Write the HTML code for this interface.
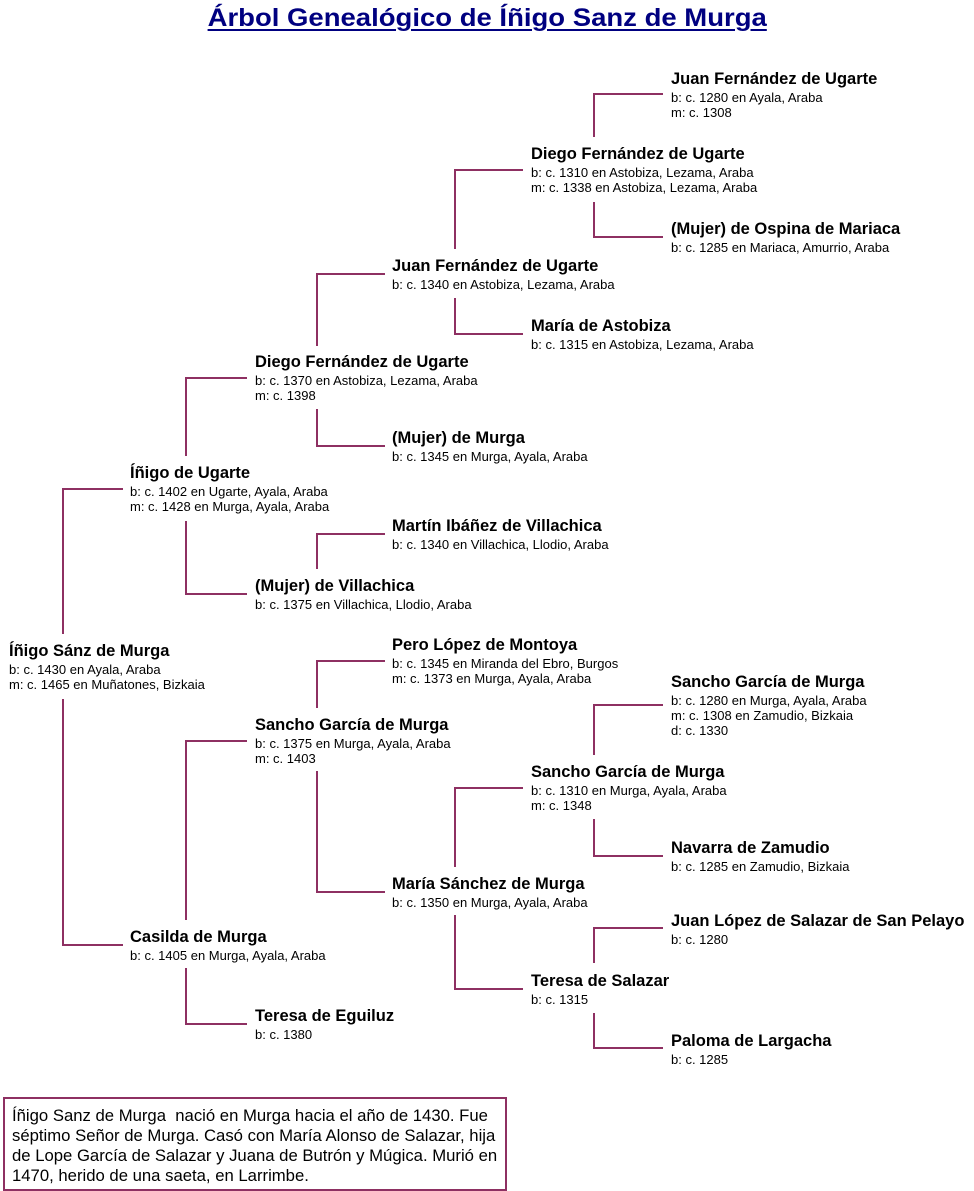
<!DOCTYPE html>
<html>
<head>
<meta charset="utf-8">
<style>
html,body{margin:0;padding:0;background:#fff;}
body{width:974px;height:1191px;position:relative;overflow:hidden;font-family:"Liberation Sans",Arial,sans-serif;color:#000;}
.title{position:absolute;left:0;top:4px;width:974px;text-align:center;line-height:28px;}
.title span{display:inline-block;font-weight:bold;font-size:25px;color:#000080;text-decoration:underline;text-decoration-thickness:2px;text-underline-offset:3px;transform:scaleX(1.1);transform-origin:50% 50%;white-space:nowrap;}
.n{position:absolute;white-space:nowrap;}
.n b{display:block;font-size:16.5px;line-height:20px;font-weight:bold;margin-bottom:1px;}
.n i{display:block;font-style:normal;font-size:13px;line-height:15px;}
svg{position:absolute;left:0;top:0;}
.box{position:absolute;left:3px;top:1097px;width:500px;height:90px;border:2px solid #8e3062;font-size:16.7px;line-height:20px;padding:0;}
.box div{position:absolute;left:7px;top:7px;white-space:nowrap;}
</style>
</head>
<body>
<div class="title"><span>Árbol Genealógico de Íñigo Sanz de Murga</span></div>

<svg width="974" height="1191" viewBox="0 0 974 1191">
<g fill="none" stroke="#8e3062" stroke-width="2" shape-rendering="crispEdges">
<path d="M123 489 H63 V634"/>
<path d="M63 699 V945 H123"/>
<path d="M247 378 H186 V456"/>
<path d="M186 521 V594 H247"/>
<path d="M247 741 H186 V920"/>
<path d="M186 968 V1024 H247"/>
<path d="M385 274 H317 V346"/>
<path d="M317 409 V446 H385"/>
<path d="M385 534 H317 V569"/>
<path d="M385 661 H317 V708"/>
<path d="M317 771 V892 H385"/>
<path d="M523 170 H455 V249"/>
<path d="M455 298 V334 H523"/>
<path d="M523 788 H455 V867"/>
<path d="M455 915 V989 H523"/>
<path d="M663 94 H594 V137"/>
<path d="M594 202 V237 H663"/>
<path d="M663 705 H594 V755"/>
<path d="M594 819 V856 H663"/>
<path d="M663 928 H594 V963"/>
<path d="M594 1013 V1048 H663"/>
</g>
</svg>

<!-- Gen 0 -->
<div class="n" style="left:9px;top:641px"><b>Íñigo Sánz de Murga</b><i>b: c. 1430 en Ayala, Araba</i><i>m: c. 1465 en Muñatones, Bizkaia</i></div>

<!-- Gen 1 -->
<div class="n" style="left:130px;top:463px"><b>Íñigo de Ugarte</b><i>b: c. 1402 en Ugarte, Ayala, Araba</i><i>m: c. 1428 en Murga, Ayala, Araba</i></div>
<div class="n" style="left:130px;top:927px"><b>Casilda de Murga</b><i>b: c. 1405 en Murga, Ayala, Araba</i></div>

<!-- Gen 2 -->
<div class="n" style="left:255px;top:352px"><b>Diego Fernández de Ugarte</b><i>b: c. 1370 en Astobiza, Lezama, Araba</i><i>m: c. 1398</i></div>
<div class="n" style="left:255px;top:575.5px"><b>(Mujer) de Villachica</b><i>b: c. 1375 en Villachica, Llodio, Araba</i></div>
<div class="n" style="left:255px;top:715px"><b>Sancho García de Murga</b><i>b: c. 1375 en Murga, Ayala, Araba</i><i>m: c. 1403</i></div>
<div class="n" style="left:255px;top:1005.5px"><b>Teresa de Eguiluz</b><i>b: c. 1380</i></div>

<!-- Gen 3 -->
<div class="n" style="left:392px;top:255.5px"><b>Juan Fernández de Ugarte</b><i>b: c. 1340 en Astobiza, Lezama, Araba</i></div>
<div class="n" style="left:392px;top:427.5px"><b>(Mujer) de Murga</b><i>b: c. 1345 en Murga, Ayala, Araba</i></div>
<div class="n" style="left:392px;top:515.5px"><b>Martín Ibáñez de Villachica</b><i>b: c. 1340 en Villachica, Llodio, Araba</i></div>
<div class="n" style="left:392px;top:635px"><b>Pero López de Montoya</b><i>b: c. 1345 en Miranda del Ebro, Burgos</i><i>m: c. 1373 en Murga, Ayala, Araba</i></div>
<div class="n" style="left:392px;top:873.5px"><b>María Sánchez de Murga</b><i>b: c. 1350 en Murga, Ayala, Araba</i></div>

<!-- Gen 4 -->
<div class="n" style="left:531px;top:144px"><b>Diego Fernández de Ugarte</b><i>b: c. 1310 en Astobiza, Lezama, Araba</i><i>m: c. 1338 en Astobiza, Lezama, Araba</i></div>
<div class="n" style="left:531px;top:315.5px"><b>María de Astobiza</b><i>b: c. 1315 en Astobiza, Lezama, Araba</i></div>
<div class="n" style="left:531px;top:762px"><b>Sancho García de Murga</b><i>b: c. 1310 en Murga, Ayala, Araba</i><i>m: c. 1348</i></div>
<div class="n" style="left:531px;top:970.5px"><b>Teresa de Salazar</b><i>b: c. 1315</i></div>

<!-- Gen 5 -->
<div class="n" style="left:671px;top:68.5px"><b>Juan Fernández de Ugarte</b><i>b: c. 1280 en Ayala, Araba</i><i>m: c. 1308</i></div>
<div class="n" style="left:671px;top:219px"><b>(Mujer) de Ospina de Mariaca</b><i>b: c. 1285 en Mariaca, Amurrio, Araba</i></div>
<div class="n" style="left:671px;top:672px"><b>Sancho García de Murga</b><i>b: c. 1280 en Murga, Ayala, Araba</i><i>m: c. 1308 en Zamudio, Bizkaia</i><i>d: c. 1330</i></div>
<div class="n" style="left:671px;top:837.5px"><b>Navarra de Zamudio</b><i>b: c. 1285 en Zamudio, Bizkaia</i></div>
<div class="n" style="left:671px;top:910.5px"><b>Juan López de Salazar de San Pelayo</b><i>b: c. 1280</i></div>
<div class="n" style="left:671px;top:1030.5px"><b>Paloma de Largacha</b><i>b: c. 1285</i></div>

<div class="box"><div>Íñigo Sanz de Murga&nbsp; nació en Murga hacia el año de 1430. Fue<br>séptimo Señor de Murga. Casó con María Alonso de Salazar, hija<br>de Lope García de Salazar y Juana de Butrón y Múgica. Murió en<br>1470, herido de una saeta, en Larrimbe.</div></div>
</body>
</html>
